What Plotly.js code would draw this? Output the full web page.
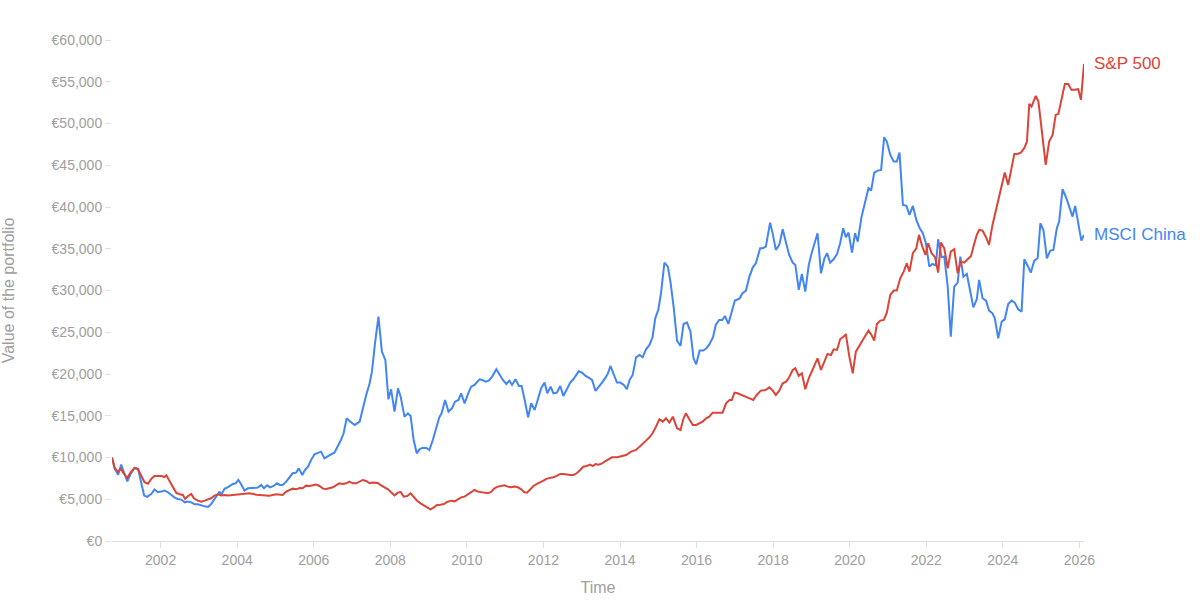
<!DOCTYPE html>
<html>
<head>
<meta charset="utf-8">
<script src="https://cdn.plot.ly/plotly-3.0.1.min.js"></script>
<style>
  html, body { margin: 0; padding: 0; background: #ffffff; }
  #chart { width: 1200px; height: 612px; }
</style>
</head>
<body>
<div id="chart"></div>
<script>
// ---- Data ----
const chinaYears = [
  2000.73,2000.80,2000.89,2000.97,2001.04,2001.13,2001.22,2001.32,2001.41,2001.48,2001.57,2001.65,2001.76,2001.84,2001.93,
  2002.02,2002.10,2002.19,2002.28,2002.37,2002.45,2002.54,2002.63,2002.71,2002.80,2002.89,2002.97,
  2003.06,2003.15,2003.24,2003.32,2003.41,2003.50,2003.54,2003.58,2003.67,2003.76,2003.89,2003.96,
  2004.03,2004.10,2004.19,2004.28,2004.37,2004.45,2004.54,2004.63,2004.70,2004.78,2004.86,2004.95,
  2005.04,2005.11,2005.19,2005.28,2005.37,2005.45,2005.54,2005.61,2005.70,2005.77,2005.85,2005.93,
  2006.02,2006.11,2006.19,2006.28,2006.37,2006.45,2006.54,2006.63,2006.71,2006.78,2006.86,2006.95,
  2007.07,2007.20,2007.28,2007.37,2007.46,2007.52,2007.60,2007.69,2007.78,2007.87,2007.95,
  2008.02,2008.11,2008.20,2008.27,2008.37,2008.46,2008.53,2008.61,2008.69,2008.76,2008.85,2008.94,
  2009.02,2009.11,2009.20,2009.28,2009.34,2009.43,2009.52,2009.61,2009.69,2009.78,2009.85,2009.94,
  2010.02,2010.11,2010.20,2010.29,2010.33,2010.40,2010.49,2010.57,2010.66,2010.77,2010.85,2010.94,
  2011.03,2011.11,2011.18,2011.27,2011.36,2011.43,2011.51,2011.60,2011.68,2011.77,2011.85,2011.94,
  2012.03,2012.10,2012.19,2012.26,2012.35,2012.44,2012.52,2012.61,2012.70,2012.78,2012.85,2012.92,
  2013.01,2013.10,2013.18,2013.27,2013.36,2013.44,2013.53,2013.62,2013.68,2013.75,2013.84,2013.92,
  2014.01,2014.10,2014.18,2014.25,2014.33,2014.42,2014.51,2014.59,2014.68,2014.77,2014.85,2014.92,
  2015.00,2015.07,2015.16,2015.25,2015.32,2015.40,2015.49,2015.58,2015.66,2015.75,2015.84,2015.92,2015.99,
  2016.08,2016.17,2016.26,2016.34,2016.43,2016.50,2016.59,2016.67,2016.74,2016.83,2016.92,
  2017.00,2017.12,2017.20,2017.29,2017.38,2017.47,2017.55,2017.66,2017.73,2017.81,2017.92,2017.99,
  2018.07,2018.16,2018.25,2018.34,2018.42,2018.51,2018.58,2018.67,2018.75,2018.84,2018.93,
  2019.01,2019.10,2019.16,2019.25,2019.34,2019.41,2019.49,2019.58,2019.67,2019.75,2019.83,2019.90,2019.97,
  2020.06,2020.14,2020.21,2020.31,2020.40,2020.49,2020.56,2020.64,2020.73,2020.82,2020.90,2020.97,
  2021.06,2021.15,2021.23,2021.30,2021.39,2021.48,2021.56,2021.65,2021.74,2021.83,2021.91,2021.99,
  2022.08,2022.16,2022.25,2022.31,2022.40,2022.47,2022.56,2022.64,2022.73,2022.82,2022.89,2022.97,
  2023.06,2023.15,2023.23,2023.32,2023.38,2023.47,2023.56,2023.64,2023.73,2023.79,2023.88,2023.97,
  2024.05,2024.14,2024.23,2024.31,2024.40,2024.49,2024.56,2024.65,2024.73,2024.82,2024.91,2024.98,
  2025.06,2025.15,2025.24,2025.32,2025.41,2025.47,2025.56,2025.65,2025.73,2025.82,2025.89,2025.98,
  2026.05,2026.12
];
const chinaValues = [
  10000,8660,7940,9150,8260,7130,8060,8750,8660,7250,5440,5280,5640,6170,5840,
  5920,6050,5840,5520,5200,5040,4960,4630,4720,4630,4390,4390,
  4230,4150,4070,4430,5040,5600,5920,5520,6250,6450,6830,6910,
  7310,6830,6030,6310,6310,6350,6390,6710,6310,6670,6430,6590,
  6910,6710,6710,7110,7630,8110,8190,8700,7910,8510,8900,9700,
  10380,10580,10700,9900,10180,10380,10580,11300,12100,12900,14690,14300,
  13900,14300,15890,17490,18890,20280,23680,26870,22680,21680,16970,
  18170,15490,18290,17290,14890,15290,14970,12100,10500,10980,11180,11140,
  10900,12100,13500,14810,15290,16890,15490,15890,16690,16890,17690,16490,
  17490,18490,18690,19090,19370,19290,19090,19210,19690,20560,19890,19290,
  18810,19210,18690,19370,18570,18570,16890,14810,16490,15690,16890,18290,
  18970,17690,18490,17690,17770,18570,17370,18090,18970,19370,19890,20320,
  20160,19770,19570,19290,17970,18410,18970,19570,20010,20960,19890,18970,
  18970,18690,18170,19290,19890,22000,22280,22000,22960,23480,24400,26670,
  27670,29670,33340,32860,30950,28070,24000,23360,25990,26150,25080,21880,21160,
  22800,22800,23080,23600,24400,25870,26470,26470,26950,25990,27470,
  28790,29030,29670,29990,31660,32780,33260,35060,35060,35260,38130,36780,
  34860,35460,37330,35660,34260,33340,33060,30070,31980,29870,33060,
  34540,35860,36860,32060,33860,34460,33340,33740,34380,35660,37450,36380,36940,
  34540,36860,35860,38850,40530,42250,41970,44120,44360,44440,48360,47840,
  46240,45440,45440,46520,40250,40130,39050,40130,38450,37450,36860,35660,
  32860,33180,33020,36140,33980,34060,30470,24480,30470,30950,34060,31660,
  31980,29670,27990,28950,31270,29070,28790,27590,27270,26670,24280,26270,
  26550,28390,28790,28550,27750,27470,33740,32940,32140,33580,33860,38050,
  37250,33860,34780,34860,37450,38250,42130,41170,39970,38850,40130,37850,
  35980,36660
];

const spYears = [
  2000.73,2000.80,2000.89,2000.96,2001.04,2001.13,2001.22,2001.32,2001.41,2001.50,2001.58,2001.67,2001.76,2001.84,2001.93,
  2002.02,2002.10,2002.15,2002.24,2002.32,2002.41,2002.50,2002.58,2002.64,2002.71,2002.80,2002.87,2002.97,
  2003.06,2003.15,2003.24,2003.32,2003.41,2003.50,2003.58,2003.67,2003.76,2003.97,
  2004.15,2004.32,2004.50,2004.67,2004.84,2005.02,2005.19,2005.28,2005.37,2005.45,2005.54,2005.63,2005.71,2005.80,2005.89,2005.98,
  2006.06,2006.15,2006.24,2006.32,2006.41,2006.50,2006.58,2006.67,2006.76,2006.85,2006.93,
  2007.02,2007.11,2007.19,2007.28,2007.37,2007.46,2007.54,2007.67,2007.76,2007.85,2007.94,
  2008.02,2008.11,2008.20,2008.27,2008.35,2008.44,2008.53,2008.61,2008.70,2008.79,2008.87,2008.96,
  2009.05,2009.14,2009.22,2009.31,2009.40,2009.48,2009.59,2009.68,2009.76,2009.85,2009.94,
  2010.02,2010.11,2010.20,2010.29,2010.46,2010.55,2010.63,2010.72,2010.81,2010.90,2010.98,
  2011.07,2011.16,2011.24,2011.33,2011.42,2011.50,2011.57,2011.65,2011.74,2011.83,2011.91,
  2012.00,2012.09,2012.17,2012.26,2012.35,2012.44,2012.52,2012.61,2012.70,2012.78,2012.87,2012.96,
  2013.04,2013.13,2013.22,2013.29,2013.36,2013.44,2013.53,2013.62,2013.71,2013.79,2013.93,
  2014.16,2014.29,2014.42,2014.51,2014.59,2014.68,2014.77,2014.85,2014.94,
  2015.03,2015.12,2015.20,2015.29,2015.38,2015.49,2015.58,2015.66,2015.72,2015.81,2015.90,2015.99,
  2016.07,2016.16,2016.25,2016.33,2016.42,2016.51,2016.59,2016.68,2016.77,2016.86,2016.92,2016.99,
  2017.07,2017.16,2017.29,2017.40,2017.48,2017.57,2017.68,2017.80,2017.90,2017.99,
  2018.07,2018.16,2018.25,2018.34,2018.42,2018.51,2018.58,2018.67,2018.75,2018.84,2018.93,
  2019.01,2019.10,2019.16,2019.25,2019.34,2019.42,2019.51,2019.58,2019.67,2019.75,2019.84,2019.90,2019.99,
  2020.08,2020.16,2020.25,2020.38,2020.49,2020.57,2020.64,2020.71,2020.80,2020.89,2020.97,
  2021.06,2021.15,2021.23,2021.32,2021.41,2021.49,2021.56,2021.65,2021.74,2021.81,2021.89,2021.98,
  2022.05,2022.14,2022.23,2022.31,2022.38,2022.47,2022.56,2022.64,2022.73,2022.82,2022.90,2022.99,
  2023.08,2023.17,2023.25,2023.32,2023.38,2023.47,2023.56,2023.64,2023.73,2023.82,2023.91,2023.98,
  2024.05,2024.14,2024.23,2024.30,2024.38,2024.47,2024.56,2024.63,2024.69,2024.75,2024.80,2024.86,2024.93,2024.99,
  2025.06,2025.12,2025.21,2025.30,2025.38,2025.45,2025.53,2025.62,2025.71,2025.79,2025.88,2025.97,
  2026.04,2026.12
];
const spValues = [
  10000,8750,8260,8660,8060,7540,8260,8750,8580,7860,7050,6850,7460,7780,7780,
  7780,7660,7860,7130,6450,5760,5600,5520,5040,5360,5640,5120,4840,
  4720,4840,5040,5120,5440,5600,5440,5520,5440,5550,
  5630,5710,5550,5470,5430,5590,5510,5910,6110,6270,6190,6350,6310,6630,6590,6670,
  6750,6590,6270,6230,6310,6430,6670,6910,6830,6910,7110,
  6910,6910,7110,7310,7190,6910,6990,6950,6670,6430,6190,
  5830,5470,5790,5870,5310,5390,5710,5230,4830,4510,4310,4110,
  3790,4030,4310,4350,4430,4670,4830,4750,4990,5230,5310,
  5550,5910,6110,5910,5790,5710,5870,6310,6510,6590,6670,
  6510,6430,6510,6430,6190,5830,5790,6190,6590,6830,6990,
  7230,7470,7510,7630,7790,8030,8030,7950,7910,7910,8110,8500,
  8900,8980,9140,8980,9220,9140,9300,9580,9860,10020,10030,
  10300,10700,10900,11300,11700,12020,12420,12900,13700,
  14570,14300,14690,14180,14890,13500,13300,14690,15290,14570,13900,13900,
  14100,14300,14690,14890,15370,15370,15290,15370,16490,16890,16890,17770,
  17690,17490,17210,17050,16890,17490,18010,18090,18410,18010,
  17490,18010,18890,19090,19610,20480,20680,19770,20080,18170,19490,
  20280,21080,21880,20480,21480,22400,22280,22960,22880,24160,24480,24760,22080,
  20080,22680,23360,24480,25200,24680,24000,26000,26390,26470,27350,
  29470,29990,29990,31460,32260,33260,32260,34460,35060,36660,35340,34260,
  35660,34460,33980,32140,35740,35060,32660,34660,34940,32060,33460,33340,
  33740,34140,35580,36660,37250,37170,36380,35460,37850,39650,41250,43040,
  44120,42650,44640,46360,46360,46520,47040,47840,52350,52030,52630,53310,52630,50030,
  46840,45040,47840,48640,51030,51150,52830,54740,54740,54030,54030,54110,
  52830,57140
];

const tickYears = [2002,2004,2006,2008,2010,2012,2014,2016,2018,2020,2022,2024,2026];
const tickLabels = tickYears.map(String);
const seriesNames = ['S&P 500', 'MSCI China'];
const seriesColors = ['#DB4437', '#4285F4'];

// ---- Chart ----
const traces = [
  { x: chinaYears, y: chinaValues, name: seriesNames[1], type: 'scatter', mode: 'lines',
    line: { color: seriesColors[1], width: 2 } },
  { x: spYears, y: spValues, name: seriesNames[0], type: 'scatter', mode: 'lines',
    line: { color: seriesColors[0], width: 2 } }
];

const annotations = [
  { x: spYears[spYears.length - 1], y: spValues[spValues.length - 1], text: seriesNames[0],
    font: { color: seriesColors[0], size: 17 } },
  { x: chinaYears[chinaYears.length - 1], y: chinaValues[chinaValues.length - 1], text: seriesNames[1],
    font: { color: seriesColors[1], size: 17 } }
].map(a => Object.assign({ xref: 'x', yref: 'y', xanchor: 'left', yanchor: 'middle',
                           showarrow: false, xshift: 8 }, a));

const layout = {
  width: 1200, height: 612,
  margin: { l: 112, r: 115.6, t: 40, b: 71 },
  paper_bgcolor: '#ffffff', plot_bgcolor: '#ffffff',
  font: { family: '"Liberation Sans", Arial, sans-serif', color: '#9e9e9e', size: 14 },
  showlegend: false,
  hovermode: false,
  xaxis: {
    range: [chinaYears[0], chinaYears[chinaYears.length - 1]],
    tickvals: tickYears, ticktext: tickLabels,
    showgrid: false, zeroline: false,
    showline: true, linecolor: '#e0e0e0', linewidth: 1,
    ticks: 'outside', ticklen: 6, tickcolor: '#e0e0e0',
    tickfont: { size: 14, color: '#9e9e9e' },
    title: { text: 'Time', font: { size: 16, color: '#9e9e9e' }, standoff: 15 }
  },
  yaxis: {
    range: [0, 60000], dtick: 5000, tick0: 0,
    tickprefix: '€', tickformat: ',d',
    showgrid: false, zeroline: false, showline: false,
    ticks: 'outside', ticklen: 6, tickcolor: '#e0e0e0',
    tickfont: { size: 14, color: '#9e9e9e' },
    title: { text: 'Value of the portfolio', font: { size: 16, color: '#9e9e9e' }, standoff: 32 }
  },
  separators: '.,',
  annotations: annotations
};

Plotly.newPlot('chart', traces, layout, { displayModeBar: false, staticPlot: true });
</script>
</body>
</html>
